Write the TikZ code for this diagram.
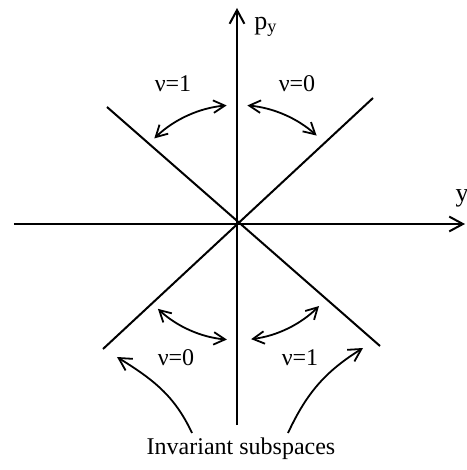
\documentclass[tikz,border=0pt]{standalone}
\usepackage{fontspec}
\setmainfont{Liberation Serif}
\usetikzlibrary{arrows.meta,calc,positioning}
\tikzset{axis/.style={line width=1pt,-{Straight Barb[length=2.4mm,width=2.6mm]}},
  sub/.style={line width=1pt},
  swing/.style={line width=0.9pt,{Straight Barb[length=2mm,width=2.2mm]}-{Straight Barb[length=2mm,width=2.2mm]}},
  flow/.style={line width=0.9pt,-{Straight Barb[length=2.2mm,width=2.4mm]}},
  lab/.style={font=\fontsize{12}{14}\selectfont,inner sep=1pt},
  axlab/.style={font=\fontsize{13}{15}\selectfont,inner sep=1pt}}

\begin{document}
\begin{tikzpicture}[x=0.5pt,y=0.5pt]
\useasboundingbox (-237,-246) rectangle (229,224);
\coordinate (O) at (0,0);
% axes
\coordinate (yl) at (-223,0);
\coordinate (yr) at (228,0);
\coordinate (pb) at (0,-201);
\coordinate (pt) at (0,216);
\draw[axis] (yl)--(yr);
\draw[axis] (pb)--(pt);
\node[axlab] (ylab) at (225,26) {y};
\node[axlab] (pylab) at (29,197) {p\textsubscript{y}};
% invariant subspaces
\coordinate (ul) at (-130,117);
\coordinate (ur) at (136,126);
\coordinate (ll) at (-134,-125);
\coordinate (lr) at (143,-122);
\draw[sub] (ul)--(lr);
\draw[sub] (ur)--(ll);
% swaps of nu
\draw[swing] (O) ++(134:119) arc[start angle=134,end angle=95,radius=119];
\draw[swing] (O) ++(85:119) arc[start angle=85,end angle=48,radius=119];
\draw[swing] (O) ++(227:116) arc[start angle=227,end angle=265,radius=116];
\draw[swing] (O) ++(277:116) arc[start angle=277,end angle=315,radius=116];
\node[lab] (nul1) at (-64,140) {ν=1};
\node[lab] (nur0) at (60,140) {ν=0};
\node[lab] (nul0) at (-61,-134) {ν=0};
\node[lab] (nur1) at (63,-134) {ν=1};
% caption and pointers
\node[lab] (inv) at (4,-225) {Invariant subspaces};
\coordinate (fl) at (-45,-209);
\coordinate (tl) at (-120,-133);
\coordinate (fr) at (51,-209);
\coordinate (tr) at (126,-124);
\draw[flow] (fl) to[out=115,in=-32] (tl);
\draw[flow] (fr) to[out=65,in=-148] (tr);
\end{tikzpicture}
\end{document}
